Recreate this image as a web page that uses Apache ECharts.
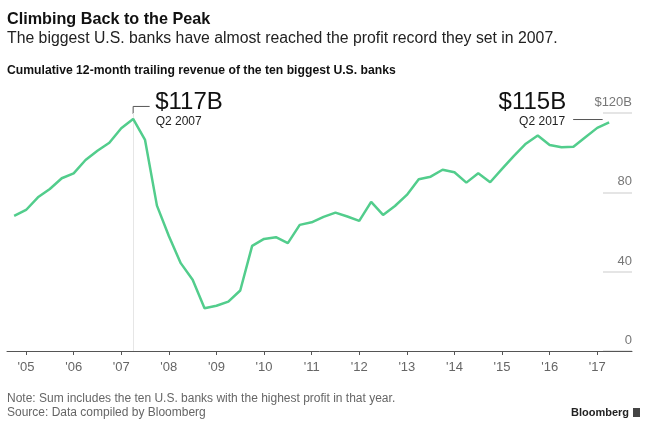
<!DOCTYPE html>
<html>
<head>
<meta charset="utf-8">
<script src="https://cdn.jsdelivr.net/npm/echarts@6/dist/echarts.min.js"></script>
<style>
html,body{margin:0;padding:0;background:#fff;}
#c{width:650px;height:426px;}
</style>
</head>
<body>
<div id="c"></div>
<script>
// ---- data ----
const quarters = [
  'Q4 2004',
  'Q1 2005','Q2 2005','Q3 2005','Q4 2005',
  'Q1 2006','Q2 2006','Q3 2006','Q4 2006',
  'Q1 2007','Q2 2007','Q3 2007','Q4 2007',
  'Q1 2008','Q2 2008','Q3 2008','Q4 2008',
  'Q1 2009','Q2 2009','Q3 2009','Q4 2009',
  'Q1 2010','Q2 2010','Q3 2010','Q4 2010',
  'Q1 2011','Q2 2011','Q3 2011','Q4 2011',
  'Q1 2012','Q2 2012','Q3 2012','Q4 2012',
  'Q1 2013','Q2 2013','Q3 2013','Q4 2013',
  'Q1 2014','Q2 2014','Q3 2014','Q4 2014',
  'Q1 2015','Q2 2015','Q3 2015','Q4 2015',
  'Q1 2016','Q2 2016','Q3 2016','Q4 2016',
  'Q1 2017','Q2 2017'
];
const revenue = [
  68.1,
  71.1, 77.5, 81.7, 87.1,
  89.6, 96.3, 101.0, 105.0,
  112.3, 117.0, 106.4, 73.3,
  58.0, 44.3, 35.9, 21.6,
  22.8, 24.9, 30.5, 53.0,
  56.5, 57.4, 54.4, 63.6,
  64.9, 67.6, 69.8, 67.8,
  65.6, 75.2, 68.6, 73.1,
  78.7, 86.6, 87.9, 91.4,
  90.1, 84.9, 89.6, 85.1,
  91.8, 98.4, 104.5, 108.7,
  103.9, 102.7, 103.0, 107.8,
  112.5, 115.3
];
const yearTicks = [2005,2006,2007,2008,2009,2010,2011,2012,2013,2014,2015,2016,2017];
const yTicks = [0, 40, 80, 120];
const peakQuarter = 'Q2 2007';
const peakText = '$117B';
const lastQuarter = 'Q2 2017';
const lastText = '$115B';

// ---- helpers ----
const FONT = "'Liberation Sans', Arial, Helvetica, sans-serif";
function qToX(q) {
  const parts = q.split(' ');
  return Number(parts[1]) + (Number(parts[0].slice(1)) - 1) / 4;
}
const seriesData = quarters.map((q, i) => [qToX(q), revenue[i]]);

const chart = echarts.init(document.getElementById('c'), null, {renderer: 'canvas'});

const option = {
  animation: false,
  backgroundColor: '#fff',
  textStyle: {fontFamily: FONT},
  title: [
    {text: 'Climbing Back to the Peak', left: 7, top: 12, padding: 0,
     textStyle: {fontSize: 16.2, fontWeight: 'bold', color: '#111', fontFamily: FONT}},
    {text: 'The biggest U.S. banks have almost reached the profit record they set in 2007.', left: 7, top: 31, padding: 0,
     textStyle: {fontSize: 15.8, fontWeight: 'normal', color: '#222', fontFamily: FONT}},
    {text: 'Cumulative 12-month trailing revenue of the ten biggest U.S. banks', left: 7, top: 65, padding: 0,
     textStyle: {fontSize: 12.2, fontWeight: 'bold', color: '#111', fontFamily: FONT}},
    {text: 'Note: Sum includes the ten U.S. banks with the highest profit in that year.', left: 7, top: 393, padding: 0,
     textStyle: {fontSize: 12, fontWeight: 'normal', color: '#666', fontFamily: FONT}},
    {text: 'Source: Data compiled by Bloomberg', left: 7, top: 407, padding: 0,
     textStyle: {fontSize: 12, fontWeight: 'normal', color: '#666', fontFamily: FONT}},
    {text: 'Bloomberg', right: 21, top: 407, padding: 0,
     textStyle: {fontSize: 11, fontWeight: 'bold', color: '#222', fontFamily: FONT}}
  ],
  grid: [
    {left: 7, right: 18, top: 113, bottom: 75},
    {left: 603, right: 18, top: 113, bottom: 75}
  ],
  xAxis: [
    {
      gridIndex: 0, type: 'value', min: 2004.6, max: 2017.73, z: 5,
      axisLine: {show: true, lineStyle: {color: '#555', width: 1}},
      axisTick: {show: true, customValues: yearTicks, length: 4, lineStyle: {color: '#555', width: 1}},
      axisLabel: {customValues: yearTicks, formatter: v => "'" + String(v).slice(2),
                  color: '#666', fontSize: 13, margin: 10, fontFamily: FONT},
      splitLine: {show: false}
    },
    {gridIndex: 1, type: 'value', min: 0, max: 1, show: false}
  ],
  yAxis: [
    {
      gridIndex: 0, type: 'value', min: yTicks[0], max: yTicks[yTicks.length - 1], interval: 40,
      position: 'right',
      axisLine: {show: false}, axisTick: {show: false}, splitLine: {show: false},
      axisLabel: {inside: true, margin: 0, verticalAlign: 'bottom', padding: [0, 0, 4, 0],
                  formatter: v => v === 120 ? '$120B' : String(v),
                  color: '#777', fontSize: 13, fontFamily: FONT}
    },
    {
      gridIndex: 1, type: 'value', min: yTicks[0], max: yTicks[yTicks.length - 1], interval: 40,
      axisLine: {show: false}, axisTick: {show: false}, axisLabel: {show: false},
      splitLine: {show: true, lineStyle: {color: '#dcdcdc', width: 1.5}}
    }
  ],
  series: [
    {
      type: 'line', xAxisIndex: 0, yAxisIndex: 0, data: seriesData,
      showSymbol: false, symbol: 'none', z: 3,
      lineStyle: {color: '#52cd8c', width: 2.5},
      markLine: {
        silent: true, symbol: 'none', label: {show: false},
        lineStyle: {color: '#e6e6e6', width: 1, type: 'solid'},
        data: [{xAxis: qToX(peakQuarter)}],
        z: 1
      }
    }
  ]
};
chart.setOption(option);

const pIdx = quarters.indexOf(peakQuarter);
const lIdx = quarters.indexOf(lastQuarter);
const pk = chart.convertToPixel({seriesIndex: 0}, seriesData[pIdx]);
const ls = chart.convertToPixel({seriesIndex: 0}, seriesData[lIdx]);

chart.setOption({
  graphic: [
    {type: 'polyline', silent: true,
     shape: {points: [[pk[0], pk[1] - 5], [pk[0], pk[1] - 12.5], [pk[0] + 16.5, pk[1] - 12.5]]},
     style: {stroke: '#555', lineWidth: 1, fill: null}},
    {type: 'text', x: pk[0] + 22, y: pk[1] - 17,
     style: {text: peakText, fontSize: 24, fontFamily: FONT, fill: '#111', align: 'left', verticalAlign: 'middle'}},
    {type: 'text', x: pk[0] + 22.5, y: pk[1] + 2.7,
     style: {text: peakQuarter, fontSize: 12, fontFamily: FONT, fill: '#222', align: 'left', verticalAlign: 'middle'}},
    {type: 'text', x: ls[0] - 43, y: ls[1] - 20,
     style: {text: lastText, fontSize: 24, fontFamily: FONT, fill: '#111', align: 'right', verticalAlign: 'middle'}},
    {type: 'text', x: ls[0] - 44, y: ls[1] - 0.3,
     style: {text: lastQuarter, fontSize: 12, fontFamily: FONT, fill: '#222', align: 'right', verticalAlign: 'middle'}},
    {type: 'line', silent: true,
     shape: {x1: ls[0] - 36, y1: ls[1] - 2.8, x2: ls[0] - 6.5, y2: ls[1] - 2.8},
     style: {stroke: '#555', lineWidth: 1}},
    {type: 'rect', silent: true, shape: {x: 633, y: 408, width: 7, height: 9},
     style: {fill: '#444'}}
  ]
});
</script>
</body>
</html>
